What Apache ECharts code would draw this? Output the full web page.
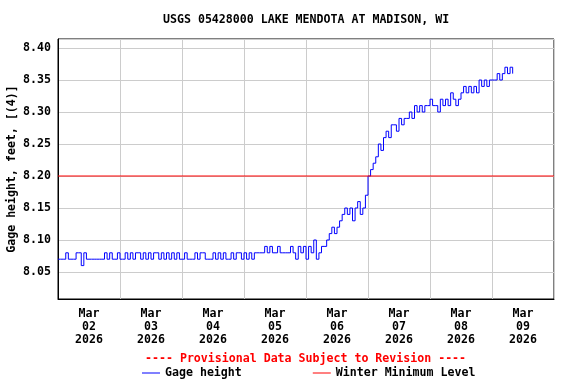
<!DOCTYPE html>
<html><head><meta charset="utf-8">
<script src="https://cdn.jsdelivr.net/npm/echarts@6/dist/echarts.min.js"></script>
<style>html,body{margin:0;padding:0;background:#fff}#c{width:576px;height:384px}</style>
</head><body><div id="c"></div>
<script>
// Hourly gage height readings (feet), hour 0 = Mar 02 2026 00:00
const mar02 = [8.07,8.07,8.07,8.08,8.07,8.07,8.07,8.08,8.08,8.06,8.08,8.07,8.07,8.07,8.07,8.07,8.07,8.07,8.08,8.07,8.08,8.07,8.07,8.08];
const mar03 = [8.07,8.07,8.08,8.07,8.08,8.07,8.08,8.08,8.07,8.08,8.07,8.08,8.07,8.08,8.08,8.07,8.08,8.07,8.08,8.07,8.08,8.07,8.08,8.07];
const mar04 = [8.07,8.08,8.07,8.07,8.07,8.08,8.07,8.08,8.08,8.07,8.07,8.07,8.08,8.07,8.08,8.07,8.08,8.07,8.07,8.08,8.07,8.08,8.08,8.07];
const mar05 = [8.08,8.07,8.08,8.07,8.08,8.08,8.08,8.08,8.09,8.08,8.09,8.08,8.08,8.09,8.08,8.08,8.08,8.08,8.09,8.08,8.07,8.09,8.08,8.09];
const mar06 = [8.07,8.09,8.08,8.10,8.07,8.08,8.09,8.09,8.10,8.11,8.12,8.11,8.12,8.13,8.14,8.15,8.14,8.15,8.13,8.15,8.16,8.14,8.15,8.17];
const mar07 = [8.20,8.21,8.22,8.23,8.25,8.24,8.26,8.27,8.26,8.28,8.28,8.27,8.29,8.28,8.29,8.29,8.30,8.29,8.31,8.30,8.31,8.30,8.31,8.31];
const mar08 = [8.32,8.31,8.31,8.30,8.32,8.31,8.32,8.31,8.33,8.32,8.31,8.32,8.33,8.34,8.33,8.34,8.33,8.34,8.33,8.35,8.34,8.35,8.34,8.35];
const mar09 = [8.35,8.35,8.36,8.35,8.36,8.37,8.36,8.37,8.36];
const winterMinimumLevel = 8.20;
const dayLabels = ['Mar\n02\n2026','Mar\n03\n2026','Mar\n04\n2026','Mar\n05\n2026','Mar\n06\n2026','Mar\n07\n2026','Mar\n08\n2026','Mar\n09\n2026'];
const dayLabelHours = [12,36,60,84,108,132,156,180];

const gage = [].concat(mar02, mar03, mar04, mar05, mar06, mar07, mar08, mar09);
const gageData = gage.map((v, i) => [i, v]);
const FONT = 'DejaVu Sans Mono';

const chart = echarts.init(document.getElementById('c'), null, {renderer: 'canvas'});
chart.setOption({
  animation: false,
  backgroundColor: '#fff',
  grid: {left: 58, right: 22, top: 39, bottom: 85, containLabel: false, outerBoundsMode: 'none',
         show: true, borderColor: '#000', borderWidth: 1, backgroundColor: 'transparent'},
  graphic: [
    {type: 'text', left: 306 - 143, top: 14, style: {text: 'USGS 05428000 LAKE MENDOTA AT MADISON, WI', font: 'bold 11.6px "DejaVu Sans Mono"', fill: '#000'}},
    {type: 'text', left: 145, top: 353, style: {text: '---- Provisional Data Subject to Revision ----', font: 'bold 11.6px "DejaVu Sans Mono"', fill: '#ff0000'}}
  ],
  legend: {
    left: 142, top: 367, padding: 0, itemWidth: 18, itemHeight: 1, itemGap: 71, icon: 'rect',
    textStyle: {fontFamily: FONT, fontWeight: 'bold', fontSize: 11.6, color: '#000'},
    data: ['Gage height', 'Winter Minimum Level']
  },
  xAxis: {
    type: 'value', min: 0, max: 192, interval: 24,
    axisLine: {show: true, lineStyle: {color: '#000'}},
    axisTick: {show: false},
    splitLine: {show: true, lineStyle: {color: '#cccccc', width: 1}},
    axisLabel: {
      customValues: dayLabelHours,
      formatter: v => dayLabels[dayLabelHours.indexOf(v)] || '',
      fontFamily: FONT, fontWeight: 'bold', fontSize: 11.6, color: '#000', lineHeight: 13, margin: 8
    }
  },
  yAxis: {
    type: 'value', min: 8.0078, max: 8.4141, splitNumber: 8,
    name: 'Gage height, feet, [(4)]', nameLocation: 'middle', nameGap: 40, nameRotate: 90, nameMoveOverlap: false,
    nameTextStyle: {fontFamily: FONT, fontWeight: 'bold', fontSize: 11.6, color: '#000'},
    axisLine: {show: true, lineStyle: {color: '#000'}},
    axisTick: {show: false},
    splitLine: {show: true, lineStyle: {color: '#cccccc', width: 1}},
    axisLabel: {
      showMinLabel: false, showMaxLabel: false,
      formatter: v => v.toFixed(2),
      fontFamily: FONT, fontWeight: 'bold', fontSize: 11.6, color: '#000', margin: 7
    }
  },
  series: [
    {name: 'Gage height', type: 'line', step: 'end', symbol: 'none', data: gageData,
     lineStyle: {color: '#0000ff', width: 1}, itemStyle: {color: '#0000ff'}},
    {name: 'Winter Minimum Level', type: 'line', symbol: 'none', data: [[0, winterMinimumLevel], [192, winterMinimumLevel]],
     lineStyle: {color: '#ff0000', width: 1}, itemStyle: {color: '#ff0000'}, z: 3}
  ]
});
</script></body></html>
